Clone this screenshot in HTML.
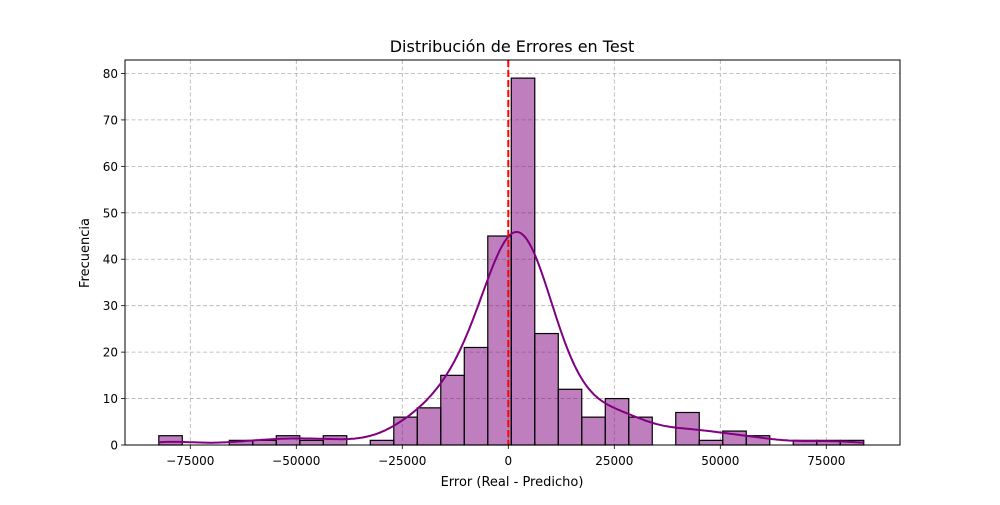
<!DOCTYPE html>
<html><head><meta charset="utf-8"><style>
body{margin:0;background:#fff;}
svg text{font-family:"DejaVu Sans","Liberation Sans",sans-serif;fill:#000;}
</style></head><body>
<svg id="chart" width="1000" height="500" xmlns="http://www.w3.org/2000/svg">
<rect width="1000" height="500" fill="#fff"/>
<g id="grid"></g>
<g id="bars"></g>
<g id="kde"></g>
<g id="axes"></g>
<text x="512" y="52" font-size="16" text-anchor="middle">Distribución de Errores en Test</text>
<text x="512" y="486" font-size="13" text-anchor="middle">Error (Real - Predicho)</text>
<text x="89" y="253" font-size="13" text-anchor="middle" transform="rotate(-90 89 253)">Frecuencia</text>
</svg>
<script>
const binStart = -82430;
const binWidth = 5542;
const counts = [2,0,0,1,1,2,1,2,0,1,6,8,15,21,45,79,24,12,6,10,6,0,7,1,3,2,0,1,1,1];
const xTicks = [-75000,-50000,-25000,0,25000,50000,75000];
const yTicks = [0,10,20,30,40,50,60,70,80];
const refLine = 0;
const L=125,R=900,T=60,B=445;
const xMin=-90400,xMax=92380,yMin=0,yMax=82.9;
const xs=v=>L+(v-xMin)/(xMax-xMin)*(R-L);
const ys=v=>B-(v-yMin)/(yMax-yMin)*(B-T);
const NS="http://www.w3.org/2000/svg";
function mk(tag,attrs,parent){const e=document.createElementNS(NS,tag);for(const k in attrs)e.setAttribute(k,attrs[k]);parent.appendChild(e);return e;}
const grid=document.getElementById('grid'),bars=document.getElementById('bars'),kde=document.getElementById('kde'),axes=document.getElementById('axes');
xTicks.forEach(t=>{const x=xs(t);
 const g=mk('line',{x1:x,x2:x,y1:T,y2:B,stroke:'#b0b0b0','stroke-dasharray':'4,2.5','stroke-width':0.8},grid);
 
 
 const tk=mk('line',{x1:x,x2:x,y1:B,y2:B+4,stroke:'#000','stroke-width':0.8},axes);
 
 
 const tx=mk('text',{x:x,y:B+20,'font-size':12,'text-anchor':'middle'},axes);
 tx.textContent=(t<0?'\u2212':'')+Math.abs(t);
 
 
});
yTicks.forEach(t=>{const y=ys(t);
 const g=mk('line',{x1:L,x2:R,y1:y,y2:y,stroke:'#b0b0b0','stroke-dasharray':'4,2.5','stroke-width':0.8},grid);
 
 
 const tk=mk('line',{x1:L-4,x2:L,y1:y,y2:y,stroke:'#000','stroke-width':0.8},axes);
 
 
 const tx=mk('text',{x:L-7,y:y+4.5,'font-size':12,'text-anchor':'end'},axes);
 tx.textContent=t;
 
 
});
counts.forEach((c,i)=>{if(c<=0)return;
 const x0=xs(binStart+i*binWidth),x1=xs(binStart+(i+1)*binWidth);
 const r=mk('rect',{x:x0,y:ys(c),width:x1-x0,height:ys(0)-ys(c),fill:'rgba(128,0,128,0.5)',stroke:'#000','stroke-width':1.2},bars);
 
 
});
let n=0,s=0;counts.forEach((c,i)=>{n+=c;s+=c*(binStart+(i+.5)*binWidth);});
const mean=s/n;let v=0;counts.forEach((c,i)=>{const d=binStart+(i+.5)*binWidth-mean;v+=c*d*d;});
const sd=Math.sqrt(v/(n-1));const bw=sd*Math.pow(n,-0.2);
let pts=[];const lo=binStart,hi=binStart+counts.length*binWidth;
for(let k=0;k<=300;k++){const x=lo+(hi-lo)*k/300;let d=0;
 counts.forEach((c,i)=>{const z=(x-(binStart+(i+.5)*binWidth))/bw;d+=c*Math.exp(-.5*z*z);});
 d=d/(bw*Math.sqrt(2*Math.PI))*binWidth;pts.push(xs(x).toFixed(1)+','+ys(d).toFixed(1));}
const p=mk('polyline',{points:pts.join(' '),fill:'none',stroke:'#800080','stroke-width':2},kde);


const rl=mk('line',{x1:xs(refLine),x2:xs(refLine),y1:T,y2:B,stroke:'#ff0000','stroke-width':2,'stroke-dasharray':'7,3'},axes);


const fr=mk('rect',{x:L,y:T,width:R-L,height:B-T,fill:'none',stroke:'#000','stroke-width':1},axes);


</script>
</body></html>
